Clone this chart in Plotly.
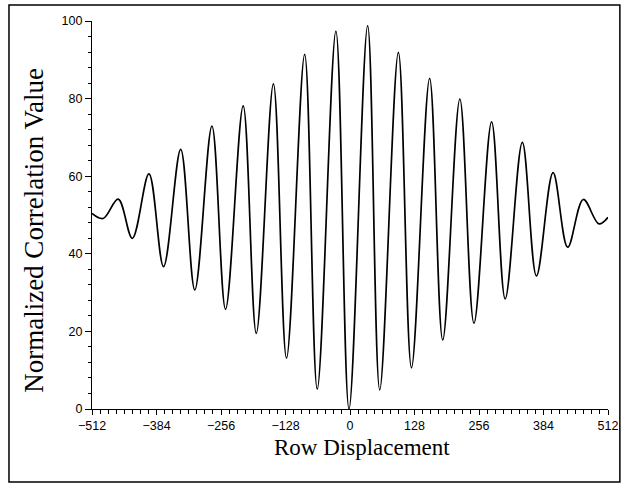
import plotly.graph_objects as go

# Row displacement (x) and normalized correlation value (y) at the curve's turning points
row_displacement = [-512, -490, -460, -432, -399, -370, -336, -308, -274, -247,
                    -212, -186, -152, -126, -90, -65, -28, -2, 35, 59,
                    96, 122, 158, 184, 218, 246, 281, 308, 342, 370,
                    403, 432, 463, 494, 512]
correlation = [50.4, 49.1, 54.1, 44.0, 60.6, 36.7, 66.9, 30.7, 72.9, 25.7,
               78.1, 19.5, 83.8, 13.1, 91.4, 5.1, 97.4, 0.0, 98.8, 4.9,
               91.9, 10.6, 85.2, 17.8, 79.9, 22.1, 74.0, 28.4, 68.7, 34.3,
               60.9, 41.7, 54.0, 47.7, 49.4]

x_tick_vals = [-512, -384, -256, -128, 0, 128, 256, 384, 512]
x_tick_text = ["\u2212512", "\u2212384", "\u2212256", "\u2212128", "0", "128", "256", "384", "512"]
y_tick_vals = [0, 20, 40, 60, 80, 100]

fig = go.Figure()
fig.add_trace(go.Scatter(
    x=row_displacement, y=correlation, mode="lines",
    line=dict(color="black", width=1.7, shape="spline", smoothing=1.0),
    hoverinfo="skip", showlegend=False, cliponaxis=False))

tick_font = dict(family="Liberation Sans, Arial, sans-serif", size=12.5, color="black")
x_title_font = dict(family="Liberation Serif, Times New Roman, serif", size=23, color="black")
y_title_font = dict(family="Liberation Serif, Times New Roman, serif", size=27, color="black")

fig.update_layout(
    width=630, height=487,
    margin=dict(l=92, r=16, t=21, b=78),
    paper_bgcolor="white", plot_bgcolor="white",
    xaxis=dict(range=[-512, 512], tickvals=x_tick_vals, ticktext=x_tick_text,
               showgrid=False, zeroline=False, showline=True, linecolor="black", linewidth=1.2,
               ticks="outside", ticklen=5, tickwidth=1.2, tickcolor="black", tickfont=tick_font,
               minor=dict(dtick=16, ticks="outside", ticklen=4, tickcolor="black", tickwidth=1, showgrid=False)),
    yaxis=dict(range=[0, 100], tickvals=y_tick_vals,
               showgrid=False, zeroline=False, showline=True, linecolor="black", linewidth=1.2,
               ticks="outside", ticklen=6, tickwidth=1.2, tickcolor="black", tickfont=tick_font,
               minor=dict(dtick=4, ticks="outside", ticklen=3, tickcolor="black", tickwidth=1, showgrid=False)),
    annotations=[
        dict(text="Normalized Correlation Value", textangle=-90,
             xref="paper", yref="paper", x=-0.113, y=0.461,
             xanchor="center", yanchor="middle", showarrow=False, font=y_title_font),
        dict(text="Row Displacement",
             xref="paper", yref="paper", x=0.523, y=-0.1,
             xanchor="center", yanchor="middle", showarrow=False, font=x_title_font),
    ],
    shapes=[dict(type="rect", xref="paper", yref="paper",
                 x0=-0.1609, x1=1.0230, y0=-0.188, y1=1.0412,
                 line=dict(color="black", width=1.5), fillcolor="rgba(0,0,0,0)")],
)

fig.write_html("out.html")
